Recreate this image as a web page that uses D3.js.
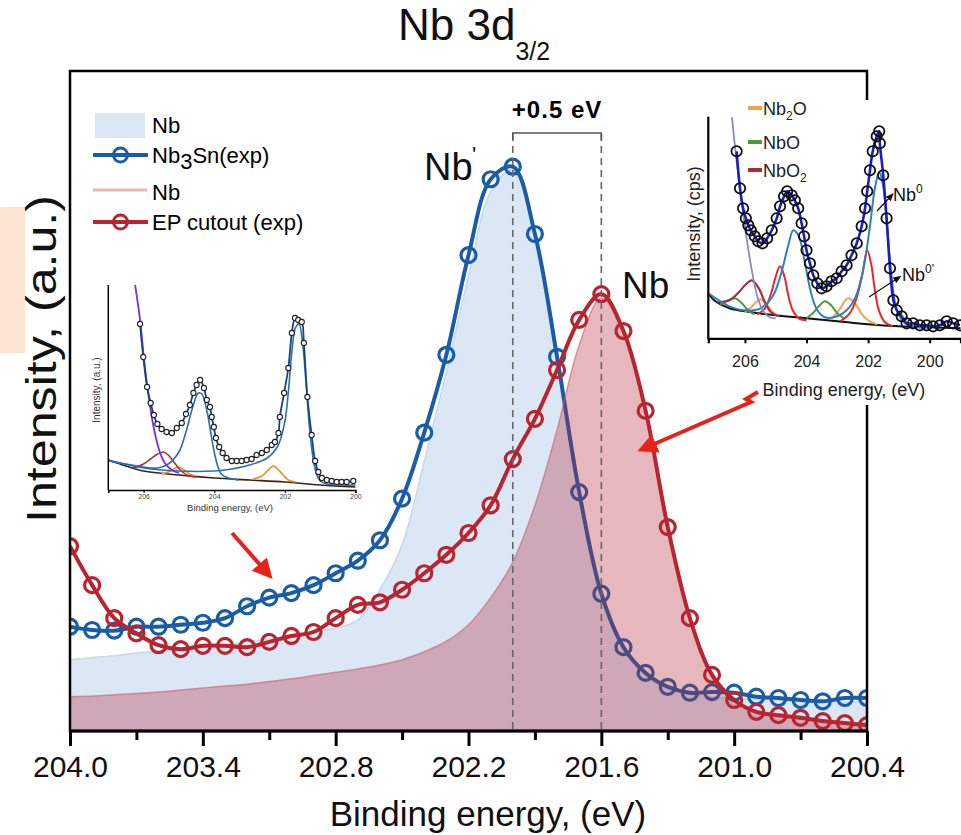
<!DOCTYPE html>
<html>
<head>
<meta charset="utf-8">
<script src="https://cdn.jsdelivr.net/npm/d3@7"></script>
<style>
  body { margin: 0; background: #fff; }
  text { font-family: Arial, "Liberation Sans", Helvetica, sans-serif; }
</style>
</head>
<body>
<script>
// ---- main panel data (binding energy in eV, intensity in a.u.) ----
const energy = [204.0, 203.9, 203.8, 203.7, 203.6, 203.5, 203.4, 203.3, 203.2, 203.1,
  203.0, 202.9, 202.8, 202.7, 202.6, 202.5, 202.4, 202.3, 202.2, 202.1,
  202.0, 201.9, 201.8, 201.7, 201.6, 201.5, 201.4, 201.3, 201.2, 201.1,
  201.0, 200.9, 200.8, 200.7, 200.6, 200.5, 200.4];

// Nb3Sn measured
const nb3snExp = [15.8, 15.3, 15.2, 15.8, 15.8, 16.1, 16.4, 17.1, 18.9, 20.2,
  20.9, 22.1, 23.9, 25.8, 28.9, 35.2, 45.2, 57.0, 72.1, 83.6,
  85.5, 75.3, 56.7, 36.2, 20.8, 12.7, 8.8, 6.7, 5.8, 5.9,
  5.8, 5.2, 5.0, 4.7, 4.5, 5.0, 5.0];

// EP cutout measured
const epExp = [28.0, 22.1, 17.1, 14.8, 13.0, 12.4, 12.9, 12.9, 12.7, 13.5,
  14.4, 15.0, 17.1, 19.1, 19.5, 21.4, 23.9, 26.7, 30.0, 34.2,
  41.2, 47.3, 54.7, 62.3, 66.2, 60.6, 48.5, 30.9, 17.1, 8.5,
  4.7, 2.9, 2.4, 2.0, 1.5, 1.2, 0.9];

// Nb reference (shaded, blue)
const nbRefBlue = [10.8, 11.1, 11.4, 11.8, 12.1, 12.4, 12.7, 13.0, 13.5, 13.9,
  14.4, 15.0, 15.6, 16.8, 21.4, 28.2, 40.8, 54.4, 68.9, 81.7,
  85.0, 75.0, 56.5, 35.9, 20.5, 12.3, 8.3, 6.4, 5.5, 5.2,
  5.0, 4.8, 4.7, 4.5, 4.4, 4.4, 4.4];

// Nb reference (shaded, red)
const nbRefRed = [5.2, 5.3, 5.5, 5.7, 5.9, 6.2, 6.5, 6.8, 7.1, 7.5,
  7.9, 8.4, 8.9, 9.4, 10.0, 10.8, 12.0, 13.6, 16.1, 20.2,
  25.6, 34.2, 45.6, 58.5, 65.6, 60.3, 48.2, 30.6, 16.8, 8.2,
  4.5, 2.9, 2.3, 1.8, 1.4, 1.1, 0.8];

const xMajor = [204.0, 203.4, 202.8, 202.2, 201.6, 201.0, 200.4];
const xMinor = [203.7, 203.1, 202.5, 201.9, 201.3, 200.7];
const peakMarks = [202.0, 201.6];

// ---- left inset (Nb3Sn fit) : [eV, counts] ----
const inset1Energy = [206.10, 206.01, 205.90, 205.80, 205.71, 205.61, 205.49, 205.35, 205.20, 205.06,
  204.92, 204.80, 204.69, 204.59, 204.50, 204.40, 204.29, 204.21, 204.12, 204.07,
  204.01, 203.95, 203.86, 203.76, 203.65, 203.50, 203.36, 203.22, 203.08, 202.94,
  202.80, 202.65, 202.51, 202.37, 202.28, 202.18, 202.14, 202.02, 201.90, 201.80,
  201.71, 201.62, 201.52, 201.46, 201.36, 201.24, 201.14, 201.05, 200.95, 200.81,
  200.67, 200.53, 200.39, 200.25, 200.06];
const inset1Counts = [166, 133, 103, 87, 75, 66, 61, 58, 57, 62,
  67, 76, 85, 97, 105, 110, 102, 90, 83, 73,
  63, 52, 43, 37, 32, 29, 29, 29, 30, 31,
  35, 37, 40, 45, 48, 57, 73, 97, 122, 157,
  172, 170, 168, 147, 93, 55, 29, 18, 12, 10,
  9, 8, 8, 8, 9];
const inset1Bg = [[207, 30], [206.5, 24], [206, 19], [205, 15], [204, 12], [203, 10], [202, 8], [201, 5], [200, 3]];
const inset1Purple = [[206.24, 205], [206.1, 170], [206, 135], [205.9, 105], [205.8, 80], [205.7, 60],
  [205.6, 45], [205.5, 34], [205.4, 27], [205.2, 20], [205.0, 17]];
const inset1BlueA = [[207, 29], [206.5, 26], [206, 23], [205.6, 22], [205.3, 26], [205, 38], [204.8, 58],
  [204.6, 84], [204.45, 97], [204.35, 96], [204.2, 78], [204.1, 58], [204, 38], [203.9, 24],
  [203.8, 16], [203.6, 12], [203.3, 10]];
const inset1BlueB = [[207, 30], [206, 22], [205, 19], [204, 19], [203.5, 21], [203, 25], [202.5, 32],
  [202.2, 44], [202, 68], [201.9, 98], [201.8, 138], [201.7, 162], [201.6, 166], [201.5, 148],
  [201.4, 108], [201.3, 62], [201.2, 32], [201.1, 16], [201, 9], [200.8, 6], [200.4, 5], [200, 5]];
const inset1Red = [[206.3, 22], [206, 26], [205.8, 31], [205.6, 36], [205.44, 38], [205.3, 35],
  [205.1, 26], [204.9, 18], [204.7, 14], [204.5, 13]];
const inset1OrangeA = [[205.5, 16], [205.3, 18], [205.1, 22], [205.0, 23], [204.85, 20], [204.7, 16], [204.5, 14]];
const inset1OrangeB = [[202.9, 11], [202.65, 14], [202.5, 19], [202.33, 24], [202.2, 21], [202.05, 15], [201.9, 10], [201.7, 8]];
const inset1Ticks = [206, 204, 202, 200];

// ---- right inset (Nb reference fit) ----
const inset2Energy = [206.27, 206.16, 206.06, 205.97, 205.89, 205.81, 205.68, 205.57, 205.43, 205.28,
  205.13, 204.97, 204.86, 204.73, 204.63, 204.48, 204.38, 204.27, 204.16, 204.08,
  204.00, 203.89, 203.78, 203.65, 203.51, 203.35, 203.19, 203.02, 202.86, 202.70,
  202.54, 202.37, 202.21, 202.10, 202.03, 201.94, 201.85, 201.72, 201.64, 201.62,
  201.51, 201.40, 201.29, 201.18, 201.07, 200.91, 200.75, 200.54, 200.32, 200.10,
  199.89, 199.67, 199.45, 199.24, 199.02];
const inset2Counts = [187, 150, 130, 120, 113, 108, 102, 97, 95, 100,
  108, 120, 132, 142, 147, 143, 138, 130, 115, 102,
  88, 75, 63, 55, 50, 52, 57, 60, 67, 73,
  83, 95, 112, 130, 147, 168, 187, 202, 207, 195,
  163, 120, 70, 38, 28, 22, 15, 15, 13, 13,
  12, 13, 17, 15, 13];
const inset2Bg = [[207.19, 45], [207, 38], [206.5, 30], [206, 27], [205, 23], [204, 20], [203, 17],
  [202, 14], [201, 12], [200, 11], [199, 10]];
const inset2Lavender = [[206.42, 221], [206.3, 185], [206.2, 160], [206, 112], [205.8, 72], [205.6, 42],
  [205.4, 27], [205.2, 21], [205.0, 20]];
const inset2Nb0 = [[207.19, 45], [206.5, 32], [206, 28], [205.5, 30], [205.1, 42], [204.85, 62],
  [204.6, 92], [204.43, 108], [204.25, 102], [204.05, 75], [203.85, 45], [203.65, 28], [203.4, 21],
  [203, 22], [202.7, 28], [202.4, 42], [202.15, 70], [201.95, 110], [201.78, 150], [201.64, 166],
  [201.5, 150], [201.38, 110], [201.25, 65], [201.1, 32], [200.9, 18], [200.6, 12], [200, 11]];
const inset2RedA = [[205.6, 24], [205.35, 30], [205.15, 45], [205.0, 62], [204.86, 72], [204.72, 62],
  [204.6, 44], [204.45, 28], [204.25, 20], [204.0, 18]];
const inset2RedB = [[202.9, 17], [202.6, 25], [202.4, 38], [202.2, 62], [202.03, 88], [201.9, 74],
  [201.78, 48], [201.65, 28], [201.45, 16], [201.2, 12]];
const inset2NbO2 = [[206.9, 36], [206.5, 38], [206.2, 46], [206, 53], [205.78, 58], [205.55, 50],
  [205.35, 36], [205.15, 26], [204.9, 22]];
const inset2NbOA = [[206.8, 34], [206.55, 38], [206.32, 40], [206.1, 35], [205.9, 28], [205.7, 24]];
const inset2NbOB = [[204.0, 20], [203.8, 25], [203.6, 32], [203.4, 37], [203.2, 33], [203.0, 25], [202.8, 20]];
const inset2Nb2OA = [[206.0, 26], [205.8, 31], [205.5, 39], [205.3, 34], [205.1, 26], [204.9, 22]];
const inset2Nb2OB = [[203.2, 19], [202.95, 28], [202.65, 40], [202.4, 34], [202.2, 24], [201.95, 17], [201.7, 14]];
const inset2Ticks = [206, 204, 202, 200];

const blue = '#1a5da6';
const red = '#b8242f';

let svg = d3.select('body').append('svg')
  .attr('width', 961)
  .attr('height', 835);

let defs = svg.append('defs');
defs.append('clipPath').attr('id', 'plotClip')
  .append('rect').attr('x', 70).attr('y', 71).attr('width', 797).attr('height', 660);
defs.append('marker')
  .attr('id', 'redHead')
  .attr('viewBox', '0 0 10 10')
  .attr('refX', 2).attr('refY', 5)
  .attr('markerWidth', 5).attr('markerHeight', 5)
  .attr('orient', 'auto')
  .append('path').attr('d', 'M0,0 L10,5 L0,10 Z').attr('fill', '#e8221b');
defs.append('marker')
  .attr('id', 'blackHead')
  .attr('viewBox', '0 0 10 10')
  .attr('refX', 5).attr('refY', 5)
  .attr('markerWidth', 7).attr('markerHeight', 7)
  .attr('orient', 'auto')
  .append('path').attr('d', 'M0,1 L10,5 L0,9 Z').attr('fill', '#111');

// pale orange patch on the left edge
svg.append('rect')
  .attr('x', 0).attr('y', 207).attr('width', 25).attr('height', 146)
  .attr('fill', '#fbe4d1');

// ---- scales ----
let x = d3.scaleLinear().domain([204.0, 200.4]).range([70, 867]);
let y = d3.scaleLinear().domain([0, 100]).range([731, 71]);

let lineGen = d3.line()
  .x((d, i) => x(energy[i]))
  .y(d => y(d))
  .curve(d3.curveCatmullRom);
let areaGen = d3.area()
  .x((d, i) => x(energy[i]))
  .y0(y(0))
  .y1(d => y(d))
  .curve(d3.curveCatmullRom);

let plot = svg.append('g').attr('clip-path', 'url(#plotClip)');

// Nb reference (blue shade)
plot.append('path')
  .attr('d', areaGen(nbRefBlue))
  .attr('fill', '#dbe7f5')
  .attr('stroke', '#c4d7ee')
  .attr('stroke-width', 1.5);

// Nb3Sn measured
plot.append('path')
  .attr('d', lineGen(nb3snExp))
  .attr('fill', 'none')
  .attr('stroke', blue)
  .attr('stroke-width', 4);
plot.selectAll('.blueDot')
  .data(nb3snExp)
  .enter()
  .append('circle')
    .attr('cx', (d, i) => x(energy[i]))
    .attr('cy', d => y(d))
    .attr('r', 7.5)
    .attr('fill', 'none')
    .attr('stroke', blue)
    .attr('stroke-width', 3.2);

// Nb reference (red shade) drawn over the blue curve
plot.append('path')
  .attr('d', areaGen(nbRefRed))
  .attr('fill', 'rgb(180,40,55)')
  .attr('fill-opacity', 0.33)
  .attr('stroke', 'rgba(205,95,110,0.6)')
  .attr('stroke-width', 1.5);

// peak position markers
svg.selectAll('.peakMark')
  .data(peakMarks)
  .enter()
  .append('line')
    .attr('x1', d => x(d)).attr('x2', d => x(d))
    .attr('y1', 134).attr('y2', 731)
    .attr('stroke', '#666')
    .attr('stroke-width', 1.6)
    .attr('stroke-dasharray', '7,5');
svg.append('path')
  .attr('d', `M${x(peakMarks[0])},140 V133 H${x(peakMarks[1])} V140`)
  .attr('fill', 'none')
  .attr('stroke', '#555')
  .attr('stroke-width', 1.5);
svg.append('text')
  .text('+0.5 eV')
  .attr('x', (x(peakMarks[0]) + x(peakMarks[1])) / 2)
  .attr('y', 118)
  .attr('text-anchor', 'middle')
  .style('font-size', '24px')
  .style('font-weight', 'bold')
  .style('letter-spacing', '1px');

// EP cutout measured
plot.append('path')
  .attr('d', lineGen(epExp))
  .attr('fill', 'none')
  .attr('stroke', red)
  .attr('stroke-width', 4);
plot.selectAll('.redDot')
  .data(epExp)
  .enter()
  .append('circle')
    .attr('cx', (d, i) => x(energy[i]))
    .attr('cy', d => y(d))
    .attr('r', 7.5)
    .attr('fill', 'none')
    .attr('stroke', red)
    .attr('stroke-width', 3.2);

// frame
svg.append('rect')
  .attr('x', 70).attr('y', 71).attr('width', 797).attr('height', 660)
  .attr('fill', 'none')
  .attr('stroke', '#000')
  .attr('stroke-width', 2.5);

// x axis
let xAxis = d3.axisBottom(x)
  .tickValues(xMajor)
  .tickSize(15)
  .tickPadding(10)
  .tickFormat(d3.format('.1f'));
let gx = svg.append('g')
  .attr('transform', 'translate(0,731)')
  .call(xAxis);
gx.select('.domain').remove();
gx.selectAll('line').attr('stroke-width', 3);
gx.selectAll('text')
  .style('font-size', '30px')
  .attr('fill', '#111');

let gxMinor = svg.append('g')
  .attr('transform', 'translate(0,731)')
  .call(d3.axisBottom(x).tickValues(xMinor).tickSize(9).tickFormat(''));
gxMinor.select('.domain').remove();
gxMinor.selectAll('line').attr('stroke-width', 3);

svg.append('line')
  .attr('x1', 69).attr('x2', 868).attr('y1', 731).attr('y2', 731)
  .attr('stroke', '#000').attr('stroke-width', 3);

svg.append('text')
  .text('Binding energy, (eV)')
  .attr('x', 488)
  .attr('y', 826)
  .attr('text-anchor', 'middle')
  .style('font-size', '35px')
  .attr('fill', '#111');

svg.append('text')
  .text('Intensity, (a.u.)')
  .attr('transform', 'translate(56,359) rotate(-90)')
  .attr('text-anchor', 'middle')
  .attr('textLength', 328)
  .attr('lengthAdjust', 'spacingAndGlyphs')
  .style('font-size', '43px')
  .attr('fill', '#111');

// title
let title = svg.append('text')
  .attr('x', 398)
  .attr('y', 40)
  .style('font-size', '44px')
  .attr('fill', '#111');
title.append('tspan').text('Nb 3d');
title.append('tspan').text('3/2').attr('dy', 20).style('font-size', '25px');

// peak labels
svg.append('text').text('Nb').attr('x', 424).attr('y', 180)
  .style('font-size', '38px').attr('fill', '#111');
svg.append('text').text("'").attr('x', 472).attr('y', 162)
  .style('font-size', '22px').attr('fill', '#111');
svg.append('text').text('Nb').attr('x', 622).attr('y', 298)
  .style('font-size', '37px').attr('fill', '#111');

// ---- legend ----
let legend = svg.append('g');
legend.append('rect')
  .attr('x', 95).attr('y', 113).attr('width', 50).attr('height', 25)
  .attr('fill', '#dbe7f5');
legend.append('line')
  .attr('x1', 93).attr('x2', 148).attr('y1', 155).attr('y2', 155)
  .attr('stroke', blue).attr('stroke-width', 4);
legend.append('circle')
  .attr('cx', 120.5).attr('cy', 155).attr('r', 7)
  .attr('fill', 'none').attr('stroke', blue).attr('stroke-width', 3);
legend.append('line')
  .attr('x1', 93).attr('x2', 147).attr('y1', 190).attr('y2', 190)
  .attr('stroke', '#e9b6bc').attr('stroke-width', 3);
legend.append('line')
  .attr('x1', 93).attr('x2', 148).attr('y1', 222).attr('y2', 222)
  .attr('stroke', red).attr('stroke-width', 4);
legend.append('circle')
  .attr('cx', 120.5).attr('cy', 222).attr('r', 7)
  .attr('fill', 'none').attr('stroke', red).attr('stroke-width', 3);

legend.append('text').text('Nb').attr('x', 152).attr('y', 133).style('font-size', '22px');
let l2 = legend.append('text').attr('x', 152).attr('y', 163).style('font-size', '22px');
l2.append('tspan').text('Nb');
l2.append('tspan').text('3').attr('dy', 6);
l2.append('tspan').text('Sn(exp)').attr('dy', -6);
legend.append('text').text('Nb').attr('x', 152).attr('y', 200).style('font-size', '22px');
legend.append('text').text('EP cutout (exp)').attr('x', 152).attr('y', 230).style('font-size', '22px');

// ---- generic helper for the inset curves ----
function drawCurve(g, xs, ys, pts, color, width) {
  g.append('path')
    .attr('d', d3.line().x(d => xs(d[0])).y(d => ys(d[1])).curve(d3.curveCatmullRom)(pts))
    .attr('fill', 'none')
    .attr('stroke', color)
    .attr('stroke-width', width);
}

// ---- left inset ----
let in1 = svg.append('g');
let x1 = d3.scaleLinear().domain([207, 200]).range([108.3, 355.4]);
let y1 = d3.scaleLinear().domain([0, 205]).range([490, 285]);
let pts1 = inset1Energy.map((e, i) => [e, inset1Counts[i]]);

drawCurve(in1, x1, y1, inset1Bg, '#3a2514', 1.6);
drawCurve(in1, x1, y1, inset1OrangeA, '#f2901b', 1.6);
drawCurve(in1, x1, y1, inset1OrangeB, '#f2901b', 1.6);
drawCurve(in1, x1, y1, inset1Red, '#a8323f', 1.6);
drawCurve(in1, x1, y1, inset1BlueA, '#2a6fb0', 1.6);
drawCurve(in1, x1, y1, inset1BlueB, '#2a6fb0', 1.6);
drawCurve(in1, x1, y1, inset1Purple, '#7a2fe0', 1.8);
drawCurve(in1, x1, y1, pts1, '#17457d', 1.8);
in1.selectAll('.dot1')
  .data(pts1)
  .enter()
  .append('circle')
    .attr('cx', d => x1(d[0]))
    .attr('cy', d => y1(d[1]))
    .attr('r', 2.6)
    .attr('fill', '#fff')
    .attr('stroke', '#222')
    .attr('stroke-width', 1.1);

let ax1 = in1.append('g')
  .attr('transform', 'translate(0,490)')
  .call(d3.axisBottom(x1).tickValues(inset1Ticks).tickSize(3).tickPadding(1).tickFormat(d3.format('d')));
ax1.selectAll('text').style('font-size', '7px').attr('fill', '#444');
ax1.select('.domain').attr('stroke-width', 1.5);
in1.append('line')
  .attr('x1', 108.3).attr('x2', 108.3).attr('y1', 285).attr('y2', 490)
  .attr('stroke', '#000').attr('stroke-width', 1.5);
in1.append('text').text('Binding energy, (eV)')
  .attr('x', 230).attr('y', 511).attr('text-anchor', 'middle')
  .style('font-size', '9.5px').attr('fill', '#333');
in1.append('text').text('Intensity, (a.u.)')
  .attr('transform', 'translate(100,390) rotate(-90)')
  .attr('text-anchor', 'middle')
  .style('font-size', '10px').attr('fill', '#333');

// ---- right inset ----
let in2 = svg.append('g');
in2.append('rect')
  .attr('x', 682).attr('y', 100).attr('width', 279).attr('height', 305)
  .attr('fill', '#fff');
let x2 = d3.scaleLinear().domain([207.19, 199]).range([708.3, 960.5]);
let y2 = d3.scaleLinear().domain([0, 221.6]).range([338.3, 116.7]);
let pts2 = inset2Energy.map((e, i) => [e, inset2Counts[i]]);

drawCurve(in2, x2, y2, inset2Bg, '#111', 2);
drawCurve(in2, x2, y2, inset2Nb2OA, '#f4a24e', 2);
drawCurve(in2, x2, y2, inset2Nb2OB, '#f4a24e', 2);
drawCurve(in2, x2, y2, inset2NbOA, '#4c9a3a', 2);
drawCurve(in2, x2, y2, inset2NbOB, '#4c9a3a', 2);
drawCurve(in2, x2, y2, inset2NbO2, '#a3303a', 2.2);
drawCurve(in2, x2, y2, inset2RedA, '#e8262b', 2);
drawCurve(in2, x2, y2, inset2RedB, '#e8262b', 2);
drawCurve(in2, x2, y2, inset2Nb0, '#2f7fbf', 2);
drawCurve(in2, x2, y2, inset2Lavender, '#8a8ac8', 1.8);
drawCurve(in2, x2, y2, pts2, '#1c1cc8', 2.6);
in2.selectAll('.dot2')
  .data(pts2)
  .enter()
  .append('circle')
    .attr('cx', d => x2(d[0]))
    .attr('cy', d => y2(d[1]))
    .attr('r', 5.2)
    .attr('fill', 'none')
    .attr('stroke', '#111')
    .attr('stroke-width', 1.8);

let ax2 = in2.append('g')
  .attr('transform', 'translate(0,338.3)')
  .call(d3.axisBottom(x2).tickValues(inset2Ticks).tickSize(5).tickPadding(12).tickFormat(d3.format('d')));
ax2.selectAll('text').style('font-size', '16px').attr('fill', '#222');
ax2.select('.domain').attr('stroke-width', 2.2);
ax2.selectAll('line').attr('stroke-width', 2);
in2.append('line')
  .attr('x1', 708.3).attr('x2', 708.3).attr('y1', 116.7).attr('y2', 339)
  .attr('stroke', '#000').attr('stroke-width', 2.2);
in2.append('text').text('Binding energy, (eV)')
  .attr('x', 844).attr('y', 396).attr('text-anchor', 'middle')
  .style('font-size', '18px').attr('fill', '#222');
in2.append('text').text('Intensity, (cps)')
  .attr('transform', 'translate(700,224) rotate(-90)')
  .attr('text-anchor', 'middle')
  .style('font-size', '18px').attr('fill', '#222');

// inset legend
const inset2Legend = [
  { name: 'Nb', sub: '2', tail: 'O', color: '#f4a24e', y: 108 },
  { name: 'NbO', sub: '', tail: '', color: '#4c9a3a', y: 142 },
  { name: 'NbO', sub: '2', tail: '', color: '#a3303a', y: 170 }
];
inset2Legend.forEach(d => {
  in2.append('line')
    .attr('x1', 748).attr('x2', 762).attr('y1', d.y).attr('y2', d.y)
    .attr('stroke', d.color).attr('stroke-width', 4);
  let t = in2.append('text').attr('x', 763).attr('y', d.y + 7).style('font-size', '18px').attr('fill', '#222');
  t.append('tspan').text(d.name);
  if (d.sub) t.append('tspan').text(d.sub).attr('dy', 5).style('font-size', '12px');
  if (d.tail) t.append('tspan').text(d.tail).attr('dy', -5);
});

// Nb0 annotations
in2.append('line')
  .attr('x1', 877).attr('y1', 211).attr('x2', 891).attr('y2', 196)
  .attr('stroke', '#111').attr('stroke-width', 1.2)
  .attr('marker-end', 'url(#blackHead)');
let a1 = in2.append('text').attr('x', 893).attr('y', 201).style('font-size', '18px').attr('fill', '#111');
a1.append('tspan').text('Nb');
a1.append('tspan').text('0').attr('dy', -8).style('font-size', '12px');
in2.append('line')
  .attr('x1', 869).attr('y1', 297).attr('x2', 898).attr('y2', 278)
  .attr('stroke', '#111').attr('stroke-width', 1.2)
  .attr('marker-end', 'url(#blackHead)');
let a2 = in2.append('text').attr('x', 902).attr('y', 281).style('font-size', '18px').attr('fill', '#111');
a2.append('tspan').text('Nb');
a2.append('tspan').text("0'").attr('dy', -8).style('font-size', '12px');

// ---- red pointer arrows ----
svg.append('line')
  .attr('x1', 232).attr('y1', 533).attr('x2', 262).attr('y2', 567)
  .attr('stroke', '#e8221b').attr('stroke-width', 4)
  .attr('marker-end', 'url(#redHead)');
svg.append('path')
  .attr('d', 'M758,392 L746,399 L751,402 L652,445')
  .attr('fill', 'none')
  .attr('stroke', '#e8221b').attr('stroke-width', 4)
  .attr('marker-end', 'url(#redHead)');
</script>
</body>
</html>
